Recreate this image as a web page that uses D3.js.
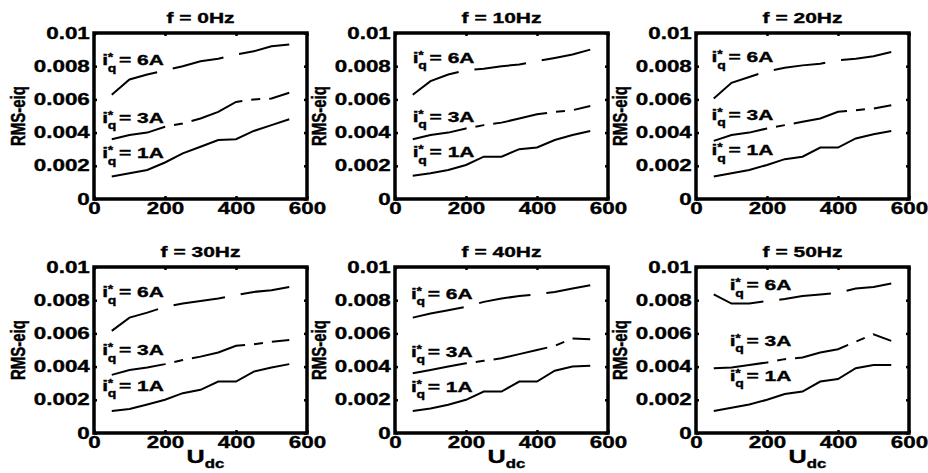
<!DOCTYPE html>
<html>
<head>
<meta charset="utf-8">
<script src="https://cdn.jsdelivr.net/npm/d3@7"></script>
<style>
  body { margin: 0; background: #fff; }
  text { font-family: "Liberation Sans", Arial, sans-serif; font-weight: bold; fill: #000; stroke: #000; stroke-width: 0.35; }
</style>
</head>
<body>
<svg id="chart" width="928" height="473"></svg>
<script>
// Udc sample points (x axis)
const udc = [50, 100, 150, 200, 250, 300, 350, 400, 450, 500, 550];

const titles = ["f = 0Hz", "f = 10Hz", "f = 20Hz", "f = 30Hz", "f = 40Hz", "f = 50Hz"];

// RMS-eiq for i_q* = 1A, one row per panel
const iq1 = [
  [0.00135, 0.00155, 0.00175, 0.0022, 0.00275, 0.00315, 0.00355, 0.0036, 0.0041, 0.00445, 0.0048],
  [0.0014, 0.00155, 0.00175, 0.00205, 0.00255, 0.00255, 0.003, 0.0031, 0.00355, 0.00385, 0.0041],
  [0.00135, 0.00155, 0.00175, 0.00205, 0.0024, 0.00255, 0.0031, 0.0031, 0.00365, 0.0039, 0.0041],
  [0.00132, 0.00145, 0.00172, 0.002, 0.0024, 0.0026, 0.0031, 0.0031, 0.0037, 0.00395, 0.00415],
  [0.00132, 0.00148, 0.0017, 0.002, 0.0025, 0.0025, 0.0031, 0.0031, 0.00375, 0.004, 0.00405],
  [0.00132, 0.00152, 0.00172, 0.002, 0.00235, 0.0025, 0.0031, 0.00325, 0.0039, 0.0041, 0.0041]
];

// i_q* = 3A
const iq3 = [
  [0.0036, 0.00385, 0.004, 0.00435, 0.00455, 0.00485, 0.00525, 0.00585, 0.006, 0.00605, 0.0064],
  [0.0036, 0.00385, 0.004, 0.00425, 0.00445, 0.0046, 0.00485, 0.0051, 0.00525, 0.00535, 0.0056],
  [0.0035, 0.00385, 0.004, 0.00425, 0.00445, 0.00465, 0.00485, 0.00525, 0.00535, 0.00545, 0.00565],
  [0.0035, 0.0038, 0.00395, 0.00415, 0.0044, 0.0046, 0.00485, 0.00525, 0.00535, 0.0055, 0.0056],
  [0.0036, 0.0038, 0.004, 0.0042, 0.00435, 0.0045, 0.00475, 0.005, 0.00525, 0.0057, 0.00565],
  [0.0039, 0.00395, 0.0041, 0.00425, 0.00445, 0.00455, 0.00485, 0.00505, 0.0055, 0.00595, 0.00555]
];

// i_q* = 6A
const iq6 = [
  [0.00628, 0.0072, 0.0075, 0.00775, 0.008, 0.0083, 0.00845, 0.0087, 0.0089, 0.0092, 0.0093],
  [0.00628, 0.0071, 0.0075, 0.00775, 0.00785, 0.008, 0.0081, 0.0083, 0.0085, 0.0087, 0.009],
  [0.00605, 0.007, 0.00735, 0.0077, 0.0079, 0.00805, 0.00815, 0.00835, 0.00845, 0.0086, 0.00885],
  [0.00615, 0.00695, 0.00725, 0.0076, 0.0078, 0.00795, 0.0081, 0.0083, 0.0085, 0.0086, 0.0088],
  [0.00695, 0.0072, 0.0074, 0.0076, 0.0079, 0.0081, 0.00825, 0.00835, 0.0085, 0.0087, 0.0089],
  [0.00835, 0.0078, 0.0078, 0.00795, 0.00807, 0.00825, 0.00835, 0.00845, 0.0087, 0.0088, 0.009]
];

const seriesNames = ["6A", "3A", "1A"];
// where each curve label sits (data coords: left / baseline), per panel
const labelAt = [
  [[23, 0.00807], [23, 0.00458], [23, 0.00247]],
  [[50, 0.0082], [50, 0.00464], [50, 0.00253]],
  [[44, 0.00825], [44, 0.00476], [44, 0.00265]],
  [[23, 0.00818], [23, 0.00467], [23, 0.00255]],
  [[45, 0.0081], [45, 0.0046], [45, 0.0025]],
  [[95, 0.0086], [95, 0.00527], [95, 0.00315]]
];

const xTicks = [0, 200, 400, 600];
const yTicks = [0, 0.002, 0.004, 0.006, 0.008, 0.01];
const yTickLabels = ["0", "0.002", "0.004", "0.006", "0.008", "0.01"];

const svg = d3.select("#chart");
const sx = 1.4; // glyphs in the figure are stretched sideways
const cols = [94, 395, 696], rows = [33, 267];
const pw = 213, ph = 166;
const dashes = ["52,16", "55,9,9,9", null];

titles.forEach((t, i) => {
  const left = cols[i % 3], top = rows[Math.floor(i / 3)];
  const x = d3.scaleLinear().domain([0, 600]).range([left, left + pw]);
  const y = d3.scaleLinear().domain([0, 0.01]).range([top + ph, top]);
  const g = svg.append("g");

  // ticks on all four sides, pointing in
  g.append("g").attr("transform", `translate(0,${top + ph})`)
    .call(d3.axisBottom(x).tickValues(xTicks).tickSize(-3).tickPadding(4).tickFormat(d3.format("d")));
  g.append("g").attr("transform", `translate(${left},0)`)
    .call(d3.axisLeft(y).tickValues(yTicks).tickSize(-3).tickPadding(3).tickFormat((d, k) => yTickLabels[k]));
  g.append("g").attr("transform", `translate(0,${top})`)
    .call(d3.axisTop(x).tickValues(xTicks).tickSize(-3).tickFormat(""));
  g.append("g").attr("transform", `translate(${left + pw},0)`)
    .call(d3.axisRight(y).tickValues(yTicks).tickSize(-3).tickFormat(""));
  g.selectAll(".domain").remove();
  g.selectAll(".tick line").attr("stroke", "#000").attr("stroke-width", 2.5);
  g.selectAll(".tick text")
    .attr("font-size", 16)
    .attr("font-family", "Liberation Sans, Arial, sans-serif")
    .attr("font-weight", "bold")
    .attr("transform", `scale(${sx},1)`);

  // curves
  [iq6[i], iq3[i], iq1[i]].forEach((vals, s) => {
    const line = d3.line().x((d, j) => x(udc[j])).y(d => y(d));
    g.append("path")
      .attr("d", line(vals))
      .attr("fill", "none")
      .attr("stroke", "#000")
      .attr("stroke-width", 2)
      .attr("stroke-dasharray", dashes[s]);

    // i_q^* = nA label
    const [lx, ly] = labelAt[i][s];
    const lg = g.append("g").attr("transform", `translate(${x(lx)},${y(ly)}) scale(${sx},1)`);
    lg.append("text").attr("font-size", 15).text("i");
    lg.append("text").attr("x", 4).attr("y", -4).attr("font-size", 10).text("*");
    lg.append("text").attr("x", 4).attr("y", 6.5).attr("font-size", 10).text("q");
    lg.append("text").attr("x", 12).attr("font-size", 15).text("= " + seriesNames[s]);
  });

  // frame
  g.append("rect")
    .attr("x", left).attr("y", top).attr("width", pw).attr("height", ph)
    .attr("fill", "none").attr("stroke", "#000").attr("stroke-width", 3.5);

  // title
  g.append("text")
    .attr("transform", `translate(${left + pw / 2},${top - 10}) scale(${sx},1)`)
    .attr("text-anchor", "middle").attr("font-size", 15)
    .text(t);

  // y label
  g.append("text")
    .attr("transform", `translate(${left - 69},${top + ph / 2}) rotate(-90) scale(1,${sx})`)
    .attr("text-anchor", "middle").attr("font-size", 15)
    .text("RMS-eiq");

  // x label on the bottom row
  if (i >= 3) {
    const xl = g.append("text")
      .attr("transform", `translate(${left + pw / 2 + 5},${top + ph + 30}) scale(${sx},1)`)
      .attr("text-anchor", "middle");
    xl.append("tspan").attr("font-size", 18).text("U");
    xl.append("tspan").attr("font-size", 12).attr("dy", 5).text("dc");
  }
});
</script>
</body>
</html>
